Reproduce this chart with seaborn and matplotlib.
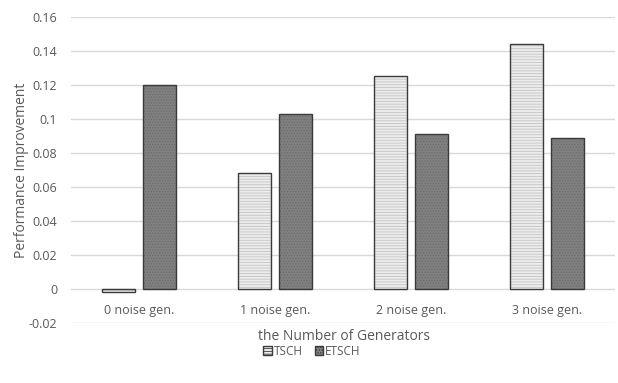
import matplotlib
matplotlib.use("Agg")
import matplotlib.pyplot as plt
import seaborn as sns
import pandas as pd
from matplotlib.patches import Patch

categories = ["0 noise gen.", "1 noise gen.", "2 noise gen.", "3 noise gen."]
tsch = [-0.002, 0.068, 0.125, 0.144]
etsch = [0.120, 0.103, 0.091, 0.089]
series = ["TSCH", "ETSCH"]
yticks = [-0.02, 0, 0.02, 0.04, 0.06, 0.08, 0.1, 0.12, 0.14, 0.16]
ytick_labels = ["-0.02", "0", "0.02", "0.04", "0.06", "0.08", "0.1", "0.12", "0.14", "0.16"]

df = pd.DataFrame({
    "gen": categories * 2,
    "value": tsch + etsch,
    "scheme": [series[0]] * 4 + [series[1]] * 4,
})

sns.set_theme(style="white")
plt.rcParams["font.family"] = ["Open Sans", "DejaVu Sans"]
plt.rcParams["hatch.linewidth"] = 0.6

fig = plt.figure(figsize=(6.18, 3.83), dpi=100)
ax = fig.add_axes([0.115, 0.157, 0.88, 0.799])

face = {"TSCH": "#ececec", "ETSCH": "#808080"}
sns.barplot(data=df, x="gen", y="value", hue="scheme", order=categories,
            hue_order=series, palette=face, width=0.6, gap=0.2,
            edgecolor="#3a3a3a", linewidth=1.0, ax=ax, legend=False,
            zorder=3)

hatches = {"TSCH": "------", "ETSCH": "......"}
hatch_cols = {"TSCH": "#c4c4c4", "ETSCH": "#6c6c6c"}
for container, name in zip(ax.containers, series):
    for bar in container:
        bar.set_hatch(hatches[name])
        bar._hatch_color = matplotlib.colors.to_rgba(hatch_cols[name])

ax.set_ylim(-0.02, 0.16)
ax.set_yticks(yticks)
ax.set_yticklabels(ytick_labels)
ax.yaxis.grid(True, color="#d9d9d9", linewidth=1.0, zorder=0)
ax.set_axisbelow(True)
for s in ax.spines.values():
    s.set_visible(False)
# category labels sit just under the zero line
ax.spines["bottom"].set_position(("data", 0))
ax.tick_params(axis="both", length=0, labelsize=9, labelcolor="#595959")
ax.tick_params(axis="y", pad=10)
ax.tick_params(axis="x", pad=11)
ax.set_xlim(-0.5, 3.5)

ax.set_xlabel("")
ax.set_ylabel("Performance Improvement", fontsize=10, color="#595959", labelpad=0)
fig.text(0.556, 0.122, "the Number of Generators", fontsize=10, color="#595959",
         ha="center", va="center")

handles = [Patch(facecolor=face[n], edgecolor="#3a3a3a", hatch=hatches[n], linewidth=1.0)
           for n in series]
fig.legend(handles, series, loc="center", bbox_to_anchor=(0.505, 0.083), ncol=2,
           frameon=False, fontsize=8.5, handlelength=0.7, handleheight=0.7,
           handletextpad=0.2, columnspacing=1.0, labelcolor="#595959")

fig.savefig("out.png", dpi=100)
